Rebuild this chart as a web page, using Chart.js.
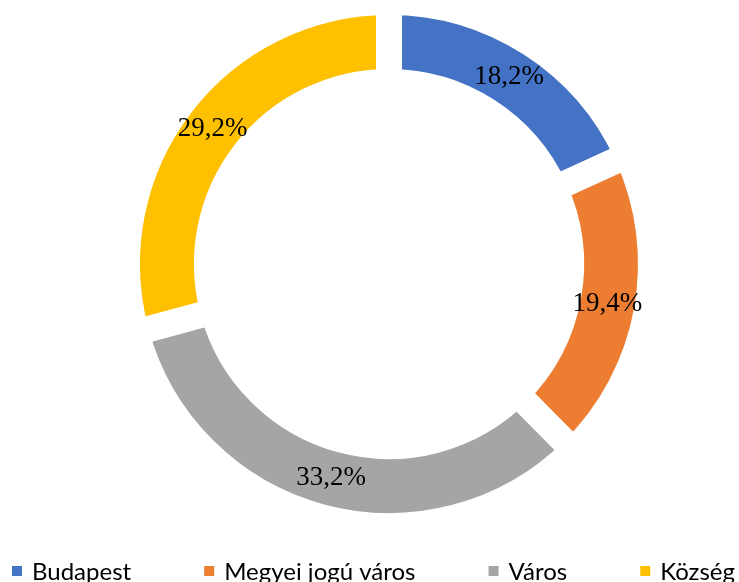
<!DOCTYPE html>
<html>
<head>
<meta charset="utf-8">
<script src="https://cdn.jsdelivr.net/npm/chart.js@4.4.1/dist/chart.umd.min.js"></script>
<style>
  html, body { margin: 0; padding: 0; background: #fff; overflow: hidden; }
  #wrap { width: 739px; height: 582px; }
</style>
</head>
<body>
<div id="wrap"><canvas id="grafico" width="739" height="582"></canvas></div>
<script>
const kategoriak = ['Budapest', 'Megyei jogú város', 'Város', 'Község'];
const ertekek = [18.2, 19.4, 33.2, 29.2];
const cimkek = ['18,2%', '19,4%', '33,2%', '29,2%'];
const szinek = ['#4472C4', '#ED7D31', '#A5A5A5', '#FFC000'];

// value labels in the middle of each ring slice
const cimkePlugin = {
    id: 'cimkek',
    afterDatasetsDraw(chart) {
        const ctx = chart.ctx;
        const meta = chart.getDatasetMeta(0);
        ctx.save();
        ctx.font = '27px "Liberation Serif", "Times New Roman", serif';
        ctx.fillStyle = '#000';
        ctx.textAlign = 'center';
        ctx.textBaseline = 'middle';
        meta.data.forEach((arc, i) => {
            const pos = arc.tooltipPosition();
            ctx.fillText(cimkek[i], pos.x, pos.y);
        });
        ctx.restore();
    }
};

// bottom legend spread across the full width
const jelmagyarazatPlugin = {
    id: 'jelmagyarazat',
    afterDraw(chart) {
        const ctx = chart.ctx;
        ctx.save();
        ctx.font = '24px Lato, "Open Sans", sans-serif';
        ctx.textBaseline = 'alphabetic';
        const doboz = 10;
        const koz = 10;
        const szelessegek = kategoriak.map(k => doboz + koz + ctx.measureText(k).width);
        const osszes = szelessegek.reduce((a, b) => a + b, 0);
        const bal = 12, jobb = 735;
        const res = (jobb - bal - osszes) / (kategoriak.length - 1);
        let x = bal;
        kategoriak.forEach((k, i) => {
            ctx.fillStyle = szinek[i];
            ctx.fillRect(x, 566, doboz, doboz);
            ctx.fillStyle = '#000';
            ctx.fillText(k, x + doboz + koz, 580);
            x += szelessegek[i] + res;
        });
        ctx.restore();
    }
};

new Chart(document.getElementById('grafico'), {
    type: 'doughnut',
    data: {
        labels: kategoriak,
        datasets: [{
            data: ertekek,
            backgroundColor: szinek,
            borderColor: '#fff',
            borderWidth: 26,
            radius: 262,
            cutout: '69.5%'
        }]
    },
    options: {
        responsive: false,
        animation: false,
        events: [],
        layout: { padding: { left: 39, top: 0, right: 0, bottom: 54 } },
        plugins: {
            legend: { display: false },
            tooltip: { enabled: false }
        }
    },
    plugins: [cimkePlugin, jelmagyarazatPlugin]
});
</script>
</body>
</html>
